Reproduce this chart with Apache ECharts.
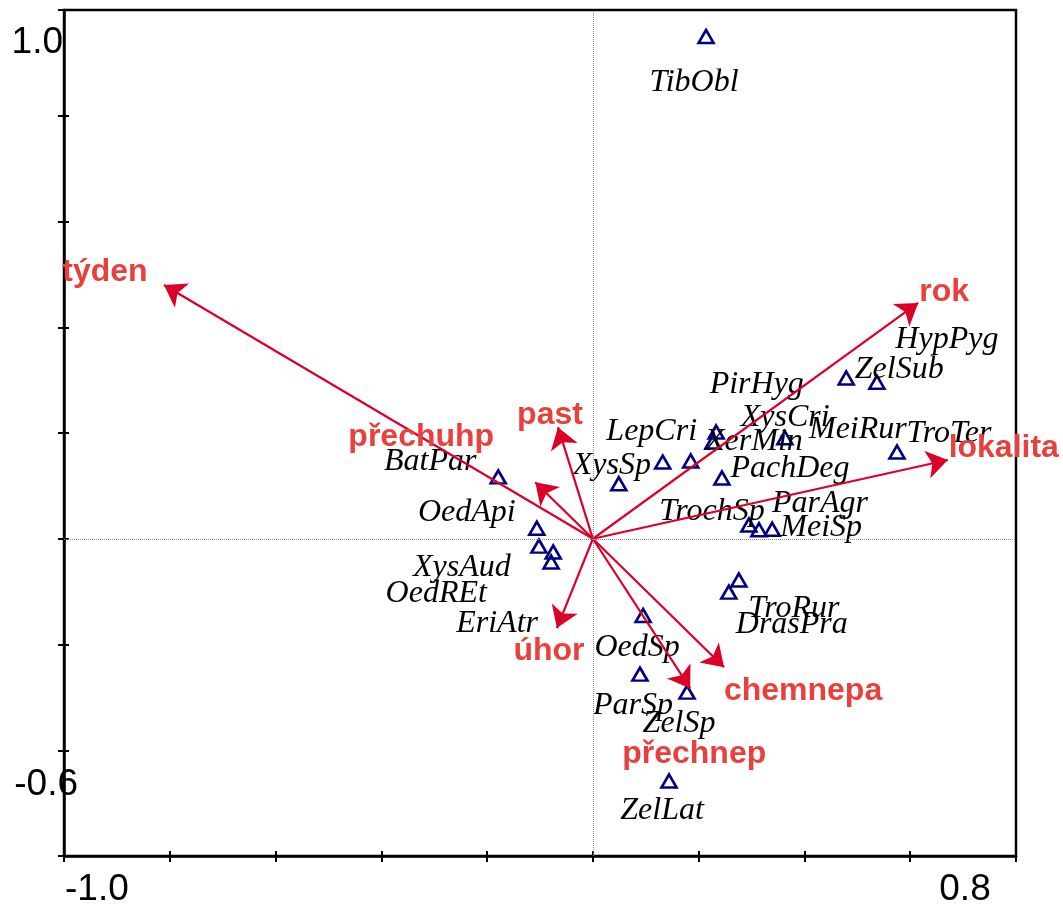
<!DOCTYPE html>
<html>
<head>
<meta charset="utf-8">
<script src="https://cdn.jsdelivr.net/npm/echarts@6/dist/echarts.min.js"></script>
<style>
  html, body { margin: 0; padding: 0; background: #fff; }
  #chart { width: 1063px; height: 908px; }
</style>
</head>
<body>
<div id="chart"></div>
<script>
// Species scores (triangles)
const speciesNames = ['TibObl', 'ZelSub', 'HypPyg', 'TroTer', 'MeiRur', 'XysCri', 'XerMin', 'PirHyg',
  'LepCri', 'XysSp', 'PachDeg', 'TrochSp', 'ParAgr', 'MeiSp', 'BatPar', 'OedApi', 'XysAud',
  'OedREt', 'EriAtr', 'TroRur', 'DrasPra', 'OedSp', 'ParSp', 'ZelSp', 'ZelLat'];
const speciesX = [0.214, 0.479, 0.537, 0.575, 0.363, 0.233, 0.227, 0.185,
  0.132, 0.049, 0.244, 0.295, 0.314, 0.339, -0.179, -0.106, -0.102,
  -0.075, -0.079, 0.276, 0.257, 0.095, 0.089, 0.178, 0.144];
const speciesY = [0.950, 0.304, 0.296, 0.164, 0.191, 0.202, 0.183, 0.147,
  0.145, 0.104, 0.115, 0.026, 0.017, 0.018, 0.117, 0.020, -0.014,
  -0.025, -0.044, -0.078, -0.101, -0.145, -0.256, -0.290, -0.458];

// Environmental variables (arrows from the origin)
const envNames = ['týden', 'rok', 'lokalita', 'past', 'přechuhp', 'úhor', 'chemnepa', 'přechnep'];
const envX = [-0.811, 0.615, 0.671, -0.066, -0.109, -0.068, 0.248, 0.184];
const envY = [0.480, 0.446, 0.149, 0.211, 0.107, -0.169, -0.243, -0.283];

// Axis end labels
const xTickLabels = ['-1.0', '0.8'];
const yTickLabels = ['1.0', '-0.6'];

// Label placement in pixels, relative to the marker / arrow tip
const speciesLabelOffset = {
  TibObl: [-12, 46], ZelSub: [53, -8], HypPyg: [70, -43], TroTer: [52, -18],
  MeiRur: [73, -8], XysCri: [69, -14], XerMin: [41, 0], PirHyg: [66, -76],
  LepCri: [-11, -30], XysSp: [-7, -18], PachDeg: [68, -9], TrochSp: [-37, -13],
  ParAgr: [61, -26], MeiSp: [49, -2], BatPar: [-68, -15], OedApi: [-70, -16],
  XysAud: [-77, 21], OedREt: [-117, 42], EriAtr: [-54, 62], TroRur: [55, 29],
  DrasPra: [63, 32], OedSp: [-6, 32], ParSp: [-7, 31], ZelSp: [-8, 32], ZelLat: [-7, 30]
};
const envLabelOffset = {
  'týden': [-59, -13], 'rok': [26, -11], 'lokalita': [56, -12], 'past': [-8, -12],
  'přechuhp': [-114, -45], 'úhor': [-8, 23], 'chemnepa': [79, 24], 'přechnep': [4, 66]
};

const chart = echarts.init(document.getElementById('chart'), null, { renderer: 'canvas' });

const AXIS_COLOR = '#000';
const ARROW_COLOR = '#dc0028';
const ENV_TEXT = '#e8403c';
const SPECIES_COLOR = '#000080';

function valueAxis(min, max, pos, inside, showLine) {
  return {
    type: 'value', min: min, max: max, interval: 0.2, position: pos,
    axisLine: { show: showLine, onZero: false, lineStyle: { color: AXIS_COLOR, width: 2.5 } },
    axisTick: { show: true, inside: inside, length: inside ? 5 : 6, lineStyle: { color: AXIS_COLOR, width: 2 } },
    axisLabel: { show: false },
    splitLine: { show: false }
  };
}

const speciesData = speciesNames.map((n, i) => ({
  name: n,
  value: [speciesX[i], speciesY[i]],
  label: { offset: speciesLabelOffset[n] }
}));

const envTips = envNames.map((n, i) => ({
  name: n,
  value: [envX[i], envY[i]],
  label: { offset: envLabelOffset[n] }
}));

const arrows = envNames.map((n, i) => ({ coords: [[0, 0], [envX[i], envY[i]]] }));

chart.setOption({
  animation: false,
  backgroundColor: '#fff',
  grid: {
    left: 64, top: 10, right: 47, bottom: 52,
    show: true, borderColor: AXIS_COLOR, borderWidth: 2.5, backgroundColor: 'transparent'
  },
  xAxis: [
    valueAxis(-1.0, 0.8, 'bottom', false, true),
    valueAxis(-1.0, 0.8, 'bottom', true, false)
  ],
  yAxis: [
    valueAxis(-0.6, 1.0, 'left', false, true),
    valueAxis(-0.6, 1.0, 'left', true, false)
  ],
  series: [
    {
      type: 'scatter',
      name: 'species',
      xAxisIndex: 0, yAxisIndex: 0,
      symbol: 'triangle',
      symbolSize: [15, 13],
      itemStyle: { color: 'rgba(255,255,255,0)', borderColor: SPECIES_COLOR, borderWidth: 2.6, opacity: 1 },
      label: {
        show: true, position: 'inside', formatter: '{b}', opacity: 1,
        color: '#000', fontFamily: '"Liberation Serif", "Times New Roman", serif',
        fontStyle: 'italic', fontSize: 32
      },
      data: speciesData,
      z: 2,
      markLine: {
        silent: true, symbol: 'none', animation: false,
        label: { show: false },
        lineStyle: { type: 'dotted', color: '#8c8c8c', width: 1 },
        data: [{ xAxis: 0 }, { yAxis: 0 }]
      }
    },
    {
      type: 'lines',
      name: 'arrows',
      coordinateSystem: 'cartesian2d',
      xAxisIndex: 0, yAxisIndex: 0,
      symbol: ['none', 'arrow'],
      symbolSize: 21,
      lineStyle: { color: ARROW_COLOR, width: 2.2, opacity: 1, curveness: 0 },
      data: arrows,
      z: 3
    },
    {
      type: 'scatter',
      name: 'variables',
      xAxisIndex: 0, yAxisIndex: 0,
      symbol: 'circle',
      symbolSize: 1,
      itemStyle: { color: 'rgba(0,0,0,0)', opacity: 1 },
      label: {
        show: true, position: 'inside', formatter: '{b}', opacity: 1,
        color: ENV_TEXT, fontFamily: '"Liberation Sans", Arial, sans-serif',
        fontWeight: 'bold', fontSize: 32
      },
      data: envTips,
      z: 4
    }
  ]
});

// Axis end labels placed just inside the ends of each axis
const p = (x, y) => chart.convertToPixel({ gridIndex: 0 }, [x, y]);
const tickFont = { fontFamily: '"Liberation Sans", Arial, sans-serif', fontSize: 37, fill: '#000' };
const xMin = p(-1.0, -0.6), xMax = p(0.8, -0.6);
const yTop = p(-1.0, 1.0), yBot = p(-1.0, -0.6);
chart.setOption({
  graphic: [
    { type: 'text', x: yTop[0] - 1, y: yTop[1] + 33,
      style: Object.assign({ text: yTickLabels[0], align: 'right', verticalAlign: 'middle' }, tickFont) },
    { type: 'text', x: yBot[0] + 14, y: yBot[1] - 71,
      style: Object.assign({ text: yTickLabels[1], align: 'right', verticalAlign: 'middle' }, tickFont) },
    { type: 'text', x: xMin[0] + 1, y: xMin[1] + 34,
      style: Object.assign({ text: xTickLabels[0], align: 'left', verticalAlign: 'middle' }, tickFont) },
    { type: 'text', x: xMax[0] - 51, y: xMax[1] + 34,
      style: Object.assign({ text: xTickLabels[1], align: 'center', verticalAlign: 'middle' }, tickFont) }
  ]
});
</script>
</body>
</html>
